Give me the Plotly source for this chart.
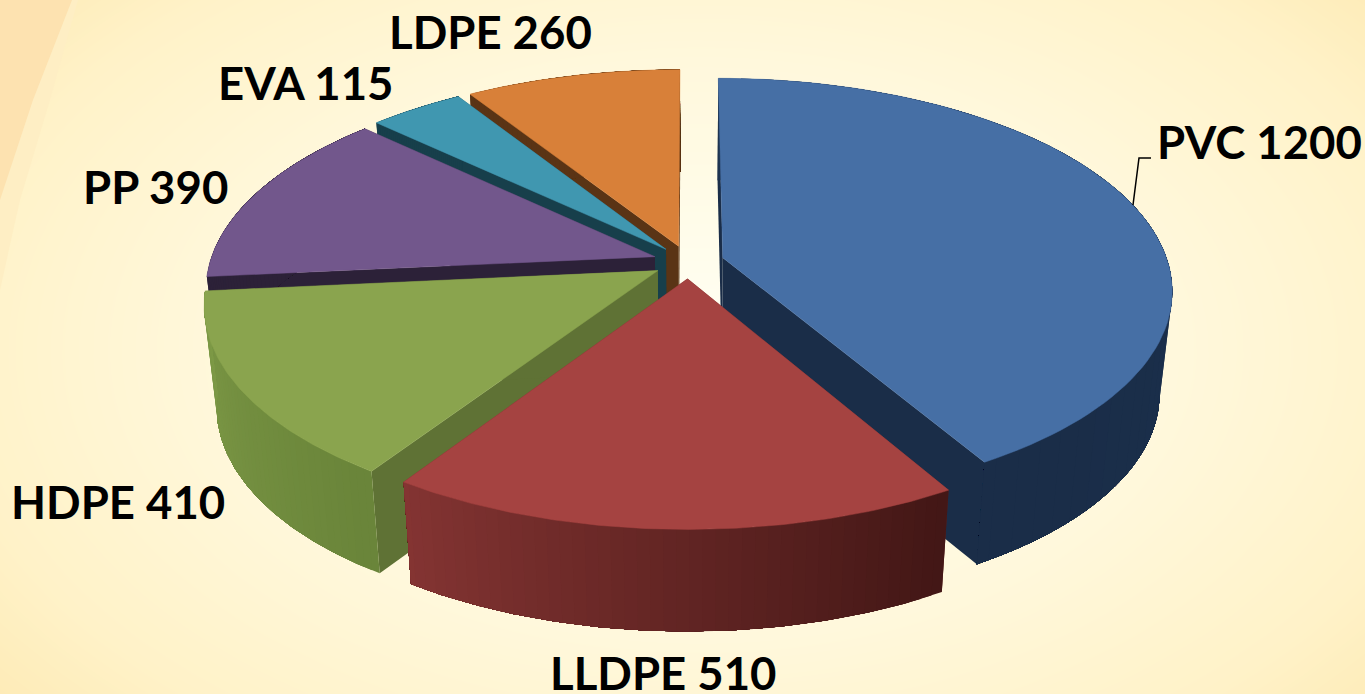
import numpy as np
import plotly.graph_objects as go

# ---- data ----
categories = ["PVC", "LLDPE", "HDPE", "PP", "EVA", "LDPE"]
values = [1200, 510, 410, 390, 115, 260]

top_colors = ["#466FA5", "#A54341", "#8AA44E", "#72578C", "#4097B0", "#D88039"]
side_colors = ["#1A2D48", "#5B2322", "#5F7235", "#2C2138", "#173F4B", "#5A3415"]
rim_from = ["#1D3350", "#431716", "#6A853A", "#2C2138", "#173F4B", "#5A3415"]
rim_to = ["#1A2D48", "#853533", "#7E9A47", "#2C2138", "#173F4B", "#5A3415"]
draw_order = [5, 4, 3, 2, 0, 1]

label_x = [1259, 663, 118, 155, 305, 490]
label_y = [141, 672, 501, 186, 82, 31]

# ---- projection of the tilted pie ----
CX, CY, A, B, K, EXPLODE, DEPTH, CONV = 688.5, 262, 445, 207.5, 0.15, 0.08, 102, 0.974


def project(X, Y, low=False):
    s = 1 / (1 + K * Y)
    x = CX + A * X * s
    y = CY - B * Y * s
    if low:
        x = CX + (x - CX) * CONV
        y = y + DEPTH
    return x, y


def hex2rgb(h):
    return np.array([int(h[i:i + 2], 16) for i in (1, 3, 5)], float)


def mix(a, b, t):
    c = hex2rgb(a) * (1 - t) + hex2rgb(b) * t
    return "rgb(%d,%d,%d)" % tuple(c)


fig = go.Figure()

# background glow
gx = np.linspace(0, 1365, 70)
gy = np.linspace(0, 694, 36)
GX, GY = np.meshgrid(gx, gy)
glow = np.sqrt(((GX - 700) / 900) ** 2 + ((GY - 350) / 550) ** 2)
fig.add_trace(go.Heatmap(
    x=gx, y=gy, z=glow, zmin=0, zmax=1.05, zsmooth="best", showscale=False, hoverinfo="skip",
    colorscale=[[0, "#FFFFF4"], [0.5, "#FFF8DC"], [0.8, "#FFF2C8"], [1, "#FDE9B2"]]))

# swoosh in the top-left corner
fig.add_trace(go.Scatter(
    x=[0, 78, 50, 20, 0], y=[0, 0, 100, 200, 290],
    fill="toself", fillcolor="#FEEEC4", line=dict(width=0), mode="lines", hoverinfo="skip"))
fig.add_trace(go.Scatter(
    x=[0, 72, 33, 0], y=[0, 0, 100, 200],
    fill="toself", fillcolor="#FDE2B0", line=dict(width=0), mode="lines", hoverinfo="skip"))

total = sum(values)
edges = np.concatenate([[0], np.cumsum(values)]) / total * 2 * np.pi


def poly(xs, ys, color, width=0.0):
    fig.add_trace(go.Scatter(
        x=xs, y=ys, fill="toself", fillcolor=color, mode="lines",
        line=dict(color=color, width=width), hoverinfo="skip"))


for i in draw_order:
    a0, a1 = edges[i], edges[i + 1]
    mid = (a0 + a1) / 2
    ox, oy = EXPLODE * np.sin(mid), EXPLODE * np.cos(mid)
    th = np.linspace(a0, a1, 90)
    rx, ry = ox + np.sin(th), oy + np.cos(th)
    # radial cut faces
    for e in (a0, a1):
        ex, ey = ox + np.sin(e), oy + np.cos(e)
        p = [project(ox, oy), project(ex, ey), project(ex, ey, True), project(ox, oy, True)]
        poly([q[0] for q in p], [q[1] for q in p], side_colors[i])
    # outer rim: each band runs to the arc's end, so later bands overlap without seams
    tx, ty = project(rx, ry)
    bx, by = project(rx, ry, True)
    for j in range(0, len(th) - 1, 2):
        t = j / (len(th) - 1)
        poly(np.r_[tx[j:], bx[j:][::-1]], np.r_[ty[j:], by[j:][::-1]],
             mix(rim_from[i], rim_to[i], t))
    # top face
    ax, ay = project(ox, oy)
    poly(np.r_[ax, tx, ax], np.r_[ay, ty, ay], top_colors[i], 0.5)

# leader line of the PVC label
fig.add_trace(go.Scatter(x=[1133, 1139, 1151], y=[205, 158, 158], mode="lines",
                         line=dict(color="black", width=1.5), hoverinfo="skip"))

for name, val, lx, ly in zip(categories, values, label_x, label_y):
    fig.add_annotation(x=lx, y=ly, text=f"<b>{name} {val}</b>", showarrow=False,
                       font=dict(family="Lato", size=45.5, color="black"),
                       xanchor="center", yanchor="middle")

fig.update_layout(
    width=1365, height=694, margin=dict(l=0, r=0, t=0, b=0), showlegend=False,
    paper_bgcolor="#FFF8DC", plot_bgcolor="#FFF8DC",
    xaxis=dict(range=[0, 1365], visible=False, fixedrange=True),
    yaxis=dict(range=[694, 0], visible=False, fixedrange=True),
)
fig.write_html("out.html", config={"displayModeBar": False},
               post_script="document.body.style.margin='0';document.documentElement.style.overflow='hidden';")
